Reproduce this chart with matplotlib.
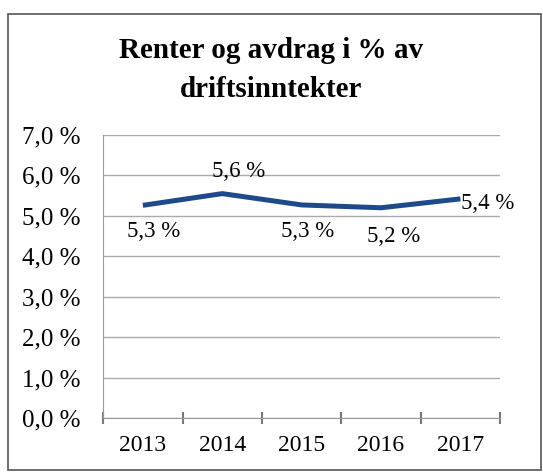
import matplotlib.pyplot as plt
from matplotlib.patches import Rectangle

plt.rcParams['font.family'] = ['Liberation Serif', 'DejaVu Serif']

# data
years = ['2013', '2014', '2015', '2016', '2017']
values = [5.26, 5.55, 5.27, 5.2, 5.42]
labels = ['5,3 %', '5,6 %', '5,3 %', '5,2 %', '5,4 %']
yticks = [0, 1, 2, 3, 4, 5, 6, 7]

fig = plt.figure(figsize=(5.43, 4.72), dpi=100)
ax = fig.add_axes([0.19, 0.1144, 0.731, 0.5996])

# outer frame
fig.patches.append(Rectangle((8 / 543, 2 / 472), 533 / 543, 456 / 472,
                             transform=fig.transFigure, fill=False,
                             edgecolor='#555555', linewidth=1.2))

x = list(range(len(years)))
ax.plot(x, values, color='#1f4a8a', linewidth=3.6, solid_capstyle='butt')

# data labels
offsets = [(8, -19), (12, 16), (4, -19), (9, -21), (20, -3)]
for i, (v, lab) in enumerate(zip(values, labels)):
    ax.annotate(lab, (i, v), xytext=offsets[i], textcoords='offset points',
                ha='center', va='center', fontsize=16.5)

ax.set_xlim(-0.5, len(years) - 0.5)
ax.set_ylim(0, 7)
ax.set_yticks(yticks)
ax.set_yticklabels([f'{t},0 %' for t in yticks], fontsize=18)
ax.set_xticks(x)
ax.set_xticklabels(years, fontsize=17)
ax.set_xticks([i - 0.5 for i in range(len(years) + 1)], minor=True)

ax.tick_params(axis='y', length=0, pad=16)
ax.tick_params(axis='x', which='major', length=0, pad=12)
ax.tick_params(axis='x', which='minor', length=9, width=1.5, color='#777777',
               direction='inout')

ax.grid(axis='y', color='#aaaaaa', linewidth=1)
ax.set_axisbelow(True)
for s in ['top', 'right']:
    ax.spines[s].set_visible(False)
ax.spines['left'].set_color('#999999')
ax.spines['bottom'].set_color('#999999')

fig.text(0.5, 0.852, 'Renter og avdrag i % av\ndriftsinntekter', ha='center',
         va='center', fontsize=21, fontweight='bold', linespacing=1.55)

fig.savefig('out.png', dpi=100)
